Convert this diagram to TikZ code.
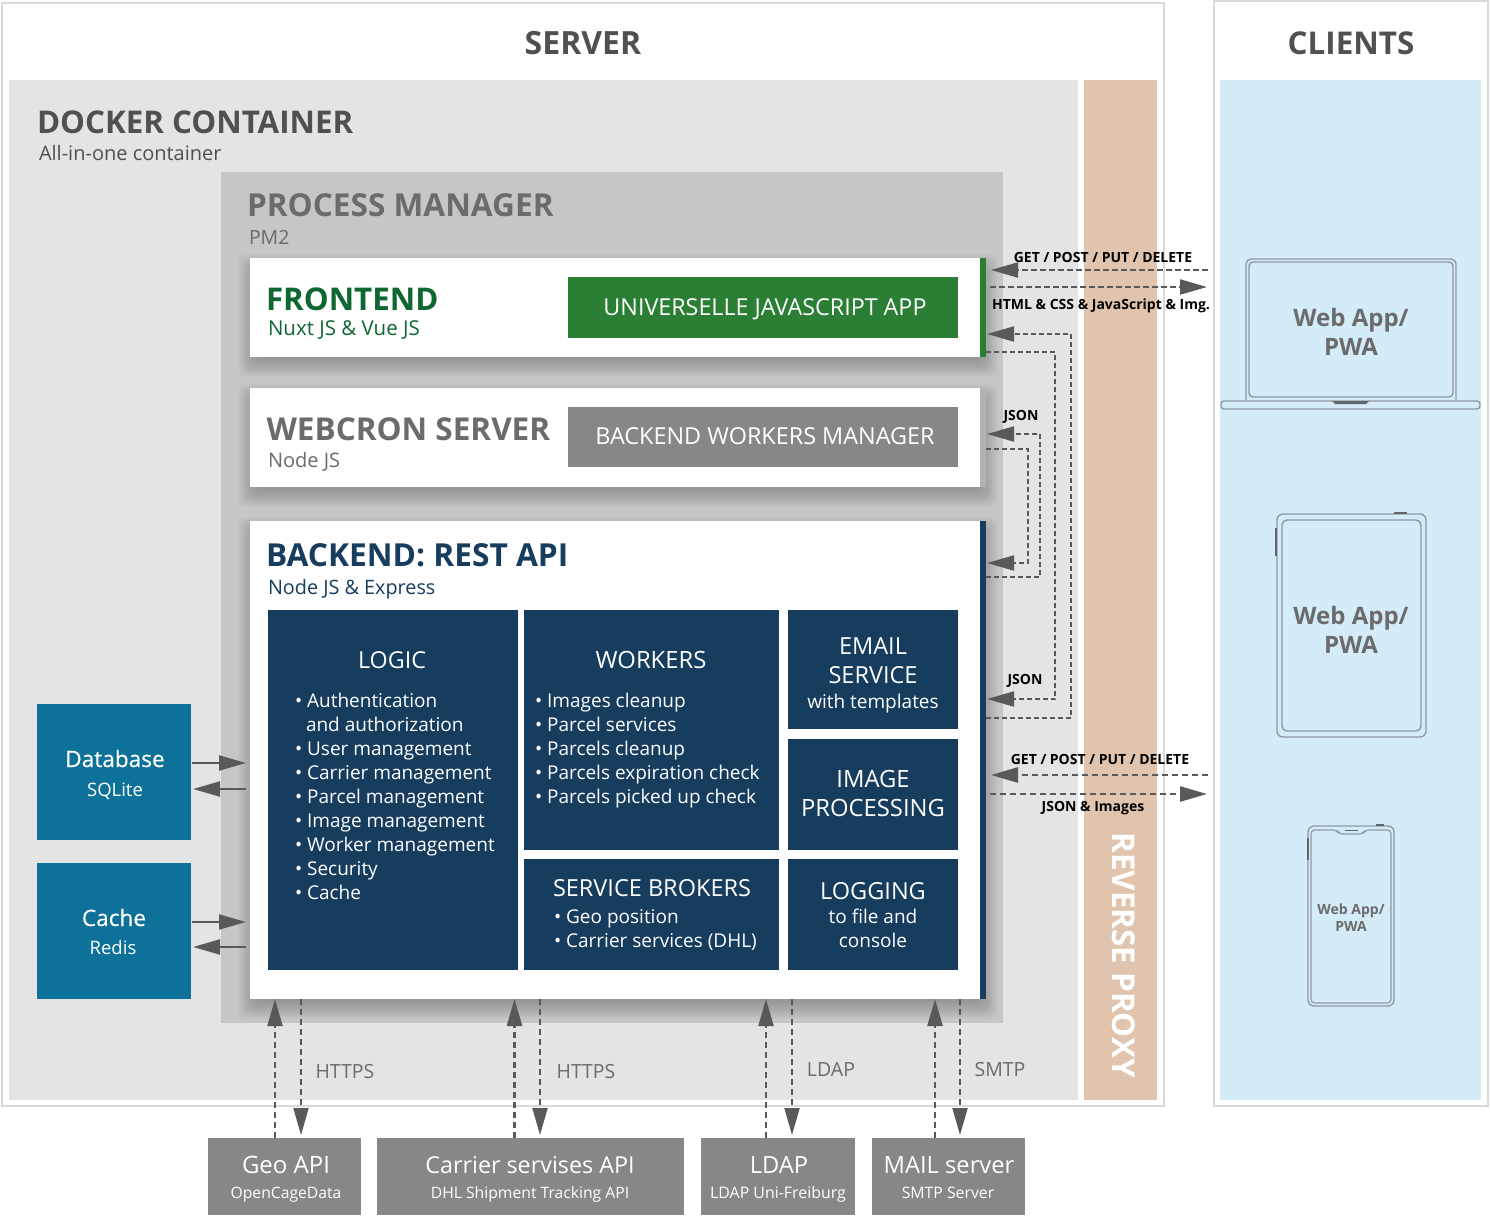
\documentclass[tikz,border=0pt]{standalone}
\usepackage{fontspec}
\setmainfont{Open Sans}
\usetikzlibrary{arrows.meta,positioning}
\definecolor{frame}{HTML}{D9D9D9}
\definecolor{dockerbg}{HTML}{E4E4E4}
\definecolor{pmbg}{HTML}{C6C6C6}
\definecolor{proxybg}{HTML}{E0C4AE}
\definecolor{clientbg}{HTML}{D4EBF8}
\definecolor{ink}{HTML}{505050}
\definecolor{inkmid}{HTML}{6B6B6B}
\definecolor{greenbar}{HTML}{2A7F35}
\definecolor{greentext}{HTML}{0E6630}
\definecolor{navy}{HTML}{163C5E}
\definecolor{teal}{HTML}{0E7199}
\definecolor{greybox}{HTML}{878787}
\definecolor{arrowc}{HTML}{595959}
\definecolor{device}{HTML}{8F9AA0}
\definecolor{devdark}{HTML}{5F686D}
\newcommand{\fs}[2]{\fontsize{#1}{#2}\selectfont}
\newcommand{\boxat}[7]{\node[#1,minimum width=#5pt-#3pt,minimum height=#6pt-#4pt,anchor=north west,#7] (#2) at (#3,#4) {};}
\newcommand{\softshadow}[4]{\foreach \d in {-8,-7,...,12}{\fill[black,opacity=.012,rounded corners=8pt] ({#1-\d},{#2-\d+8}) rectangle ({#3+\d},{#4+\d+8});}}
\tikzset{
  x=1pt,y=-1pt,
  panel/.style={inner sep=0,outer sep=0,draw=none},
  txt/.style={inner sep=0,outer sep=0,anchor=base west,text=ink},
  ctr/.style={inner sep=0,outer sep=0,anchor=base,text=white},
  mline/.style={inner sep=0,outer sep=0,align=center,text=white},
  lst/.style={inner sep=0,outer sep=0,align=left,anchor=north west,text=white},
  tag/.style={inner sep=0,outer sep=0,text=black,font=\fs{14}{16}\bfseries},
  proto/.style={inner sep=0,outer sep=0,text=inkmid,font=\fs{19.5}{22},anchor=base},
  headtip/.style={-{Triangle[length=27pt,width=15pt]},color=arrowc},
  solidarrow/.style={headtip,line width=2pt},
  dasharrow/.style={headtip,line width=2pt,dash pattern=on 6pt off 4pt},
  elbow/.style={headtip,line width=2pt,dash pattern=on 5pt off 3pt},
  dev/.style={draw=device,line width=1.4pt,line join=round},
  devtext/.style={inner sep=0,outer sep=0,align=center,text=inkmid,font=\fs{24}{29}\bfseries},
}
\begin{document}
\begin{tikzpicture}
\useasboundingbox (0,0) rectangle (1490,1216);
% outer frames
\boxat{panel,draw=frame,line width=2pt}{server}{2}{3}{1164}{1106}{}
\boxat{panel,draw=frame,line width=2pt}{clients}{1214}{1}{1488}{1106}{}
\boxat{panel,fill=dockerbg}{docker}{9}{80}{1078}{1100}{}
\boxat{panel,fill=proxybg}{proxy}{1084}{80}{1157}{1100}{}
\boxat{panel,fill=clientbg}{clientpanel}{1220}{80}{1481}{1100}{}
\boxat{panel,fill=pmbg}{pm}{221}{172}{1003}{1023}{}
% soft shadows under the three white cards
\begin{scope}
\clip (221,172) rectangle (1003,1023);
\softshadow{250}{258}{986}{357}
\softshadow{250}{388}{986}{487}
\softshadow{250}{521}{986}{999}
\end{scope}
% cards
\boxat{panel,fill=white}{frontend}{250}{258}{986}{357}{}
\fill[greenbar] (980,258) rectangle (986,357);
\boxat{panel,fill=white}{webcron}{250}{388}{986}{487}{}
\fill[black!30] (980,388) rectangle (986,487);
\boxat{panel,fill=white}{backend}{250}{521}{986}{999}{}
\fill[navy] (980,521) rectangle (986,999);
% headings
\node[txt,font=\fs{32}{36}\bfseries,anchor=base] (servertitle) at (583,54) {SERVER};
\node[txt,font=\fs{31.4}{36}\bfseries,anchor=base] (clienttitle) at (1351,54) {CLIENTS};
\node[txt,font=\fs{31.3}{36}\bfseries] (dockertitle) at (37,133) {DOCKER CONTAINER};
\node[txt,font=\fs{20}{22}] (dockersub) at (39,160) {All-in-one container};
\node[txt,text=inkmid,font=\fs{31.6}{36}\bfseries] (pmtitle) at (247,216) {PROCESS MANAGER};
\node[txt,text=inkmid,font=\fs{19.5}{22}] (pmsub) at (249,244) {PM2};
\node[txt,text=greentext,font=\fs{31.3}{36}\bfseries] (fetitle) at (266,310) {FRONTEND};
\node[txt,text=greentext,font=\fs{20.5}{22}] (fesub) at (268,335) {Nuxt JS \& Vue JS};
\node[txt,text=inkmid,font=\fs{31.5}{36}\bfseries] (wctitle) at (266.5,440) {WEBCRON SERVER};
\node[txt,text=inkmid,font=\fs{20}{22}] (wcsub) at (268,467) {Node JS};
\node[txt,text=navy,font=\fs{31.7}{36}\bfseries] (betitle) at (266,566) {BACKEND: REST API};
\node[txt,text=navy,font=\fs{19.8}{22}] (besub) at (268,594) {Node JS \& Express};
% inner bars
\boxat{panel,fill=greenbar}{jsapp}{568}{277}{958}{338}{}
\node[ctr,font=\fs{23.3}{26}] (jsapptext) at (765,315) {UNIVERSELLE JAVASCRIPT APP};
\boxat{panel,fill=greybox}{bwm}{568}{407}{958}{467}{}
\node[ctr,font=\fs{23.4}{26}] (bwmtext) at (765,444) {BACKEND WORKERS MANAGER};
% backend blocks
\boxat{panel,fill=navy}{logic}{268}{610}{518}{970}{}
\boxat{panel,fill=navy}{workers}{524}{610}{779}{850}{}
\boxat{panel,fill=navy}{email}{788}{610}{958}{729}{}
\boxat{panel,fill=navy}{image}{788}{739}{958}{850}{}
\boxat{panel,fill=navy}{brokers}{524}{859}{779}{970}{}
\boxat{panel,fill=navy}{logging}{788}{859}{958}{970}{}
\node[ctr,font=\fs{23.3}{26}] (logictitle) at (392,668) {LOGIC};
\node[lst,font=\fs{19}{24}] (logiclist) at (295,693) {•\hspace{5pt}Authentication\\\hspace{11pt}and authorization\\•\hspace{5pt}User management\\•\hspace{5pt}Carrier management\\•\hspace{5pt}Parcel management\\•\hspace{5pt}Image management\\•\hspace{5pt}Worker management\\•\hspace{5pt}Security\\•\hspace{5pt}Cache};
\node[ctr,font=\fs{23.8}{26}] (workerstitle) at (651,668) {WORKERS};
\node[lst,font=\fs{19}{24}] (workerslist) at (535,693) {•\hspace{5pt}Images cleanup\\•\hspace{5pt}Parcel services\\•\hspace{5pt}Parcels cleanup\\•\hspace{5pt}Parcels expiration check\\•\hspace{5pt}Parcels picked up check};
\node[mline,font=\fs{23.5}{29}] (emailtext1) at (873,661) {EMAIL\\SERVICE};
\node[ctr,font=\fs{19}{22}] (emailtext2) at (873,708) {with templates};
\node[mline,font=\fs{23.8}{29}] (imagetext) at (873,793.5) {IMAGE\\PROCESSING};
\node[ctr,font=\fs{23.5}{26}] (brokerstitle) at (652,896) {SERVICE BROKERS};
\node[lst,font=\fs{19}{24}] (brokerslist) at (554,910) {•\hspace{5pt}Geo position\\•\hspace{5pt}Carrier services (DHL)};
\node[ctr,font=\fs{23.5}{26}] (loggingtitle) at (873,899) {LOGGING};
\node[mline,font=\fs{19}{24}] (loggingtext) at (873,928) {to file and\\console};
% stores
\boxat{panel,fill=teal}{database}{37}{704}{191}{840}{}
\boxat{panel,fill=teal}{cache}{37}{863}{191}{999}{}
\node[ctr,font=\fs{22.6}{26}\addfontfeature{FakeBold=0.4}] (dbtitle) at (115,767) {Database};
\node[ctr,font=\fs{18.5}{22}] (dbsub) at (115,796) {SQLite};
\node[ctr,font=\fs{22.6}{26}\addfontfeature{FakeBold=0.4}] (cachetitle) at (114,926) {Cache};
\node[ctr,font=\fs{18.5}{22}] (cachesub) at (113,954) {Redis};
% external services
\boxat{panel,fill=greybox}{geo}{208}{1138}{361}{1215}{}
\boxat{panel,fill=greybox}{carrier}{377}{1138}{684}{1215}{}
\boxat{panel,fill=greybox}{ldap}{701}{1138}{855}{1215}{}
\boxat{panel,fill=greybox}{mail}{872}{1138}{1025}{1215}{}
\node[ctr,font=\fs{24}{26}] at (286,1173) {Geo API};
\node[ctr,font=\fs{15.7}{18}] at (286,1198) {OpenCageData};
\node[ctr,font=\fs{23.3}{26}] at (530,1173) {Carrier servises API};
\node[ctr,font=\fs{15.7}{18}] at (530,1198) {DHL Shipment Tracking API};
\node[ctr,font=\fs{23.7}{26}] at (779,1173) {LDAP};
\node[ctr,font=\fs{15.9}{18}] at (778,1198) {LDAP Uni-Freiburg};
\node[ctr,font=\fs{23.7}{26}] at (949,1173) {MAIL server};
\node[ctr,font=\fs{15.8}{18}] at (948,1198) {SMTP Server};
% reverse proxy label
\node[inner sep=0,text=white,font=\fs{31.4}{34}\bfseries,rotate=-90] (proxytext) at (1124,955) {REVERSE PROXY};
% store arrows
\draw[solidarrow,shorten <=1pt,shorten >=4pt] (database.east |- 0,763) -- (backend.west |- 0,763);
\draw[solidarrow,shorten <=4pt,shorten >=2pt] (backend.west |- 0,789) -- (database.east |- 0,789);
\draw[solidarrow,shorten <=1pt,shorten >=4pt] (cache.east |- 0,922) -- (backend.west |- 0,922);
\draw[solidarrow,shorten <=4pt,shorten >=2pt] (backend.west |- 0,947) -- (cache.east |- 0,947);
% service arrows
\draw[dasharrow] (geo.north -| 275,0) -- (backend.south -| 275,0);
\draw[dasharrow,shorten >=3pt] (backend.south -| 301,0) -- (geo.north -| 301,0);
\node[proto] at (345,1078) {HTTPS};
\draw[dasharrow,line width=2.6pt] (carrier.north -| 514.5,0) -- (backend.south -| 514.5,0);
\draw[dasharrow,shorten >=3pt] (backend.south -| 540,0) -- (carrier.north -| 540,0);
\node[proto] at (586,1078) {HTTPS};
\draw[dasharrow] (ldap.north -| 766,0) -- (backend.south -| 766,0);
\draw[dasharrow,shorten >=3pt] (backend.south -| 792,0) -- (ldap.north -| 792,0);
\node[proto] at (831,1076) {LDAP};
\draw[dasharrow,line width=2.6pt] (mail.north -| 935,0) -- (backend.south -| 935,0);
\draw[dasharrow,shorten >=3pt] (backend.south -| 960,0) -- (mail.north -| 960,0);
\node[proto] at (1000,1076) {SMTP};
% client arrows
\draw[elbow,dash pattern=on 6pt off 3pt,shorten <=12pt,shorten >=5pt] (clientpanel.west |- 0,270) -- (frontend.east |- 0,270);
\draw[elbow,dash pattern=on 6pt off 3pt,shorten <=4pt,shorten >=13pt] (frontend.east |- 0,287) -- (clientpanel.west |- 0,287);
\draw[dasharrow,line width=2.6pt,shorten <=12pt,shorten >=5pt] (clientpanel.west |- 0,775) -- (backend.east |- 0,775);
\draw[dasharrow,line width=2.6pt,shorten <=4pt,shorten >=13pt] (backend.east |- 0,794) -- (clientpanel.west |- 0,794);
\node[tag] at (1103,257) {GET / POST / PUT / DELETE};
\node[tag] at (1101,306) {HTML \& CSS \& JavaScript \& Img.};
\node[tag] at (1100,759) {GET / POST / PUT / DELETE};
\node[tag] at (1093,808) {JSON \& Images};
% internal elbow connectors
\draw[elbow,shorten >=1pt] (backend.east |- 0,718) -| (1071,334) -- (frontend.east |- 0,334);
\draw[elbow,shorten >=1pt] (frontend.east |- 0,351.5) -| (1055,699) -- (backend.east |- 0,699);
\draw[elbow,shorten >=1pt] (backend.east |- 0,577) -| (1040,434) -- (webcron.east |- 0,434);
\draw[elbow,shorten >=1pt] (webcron.east |- 0,449) -| (1028,563) -- (backend.east |- 0,563);
\node[tag] at (1021,417) {JSON};
\node[tag] at (1025,681) {JSON};
% laptop
\draw[dev,rounded corners=5pt] (1246,400) -- (1246,259) -- (1456,259) -- (1456,400);
\draw[dev,rounded corners=4pt] (1249,397) rectangle (1453,262);
\draw[dev,rounded corners=3pt] (1221,401) -- (1480,401) -- (1480,409) -- (1221,409) -- cycle;
\fill[devdark] (1332,401) -- (1369,401) -- (1366,404) -- (1335,404) -- cycle;
\node[devtext] (laptoptext) at (1351,331.5) {Web App/\\PWA};
% tablet
\draw[dev,rounded corners=6pt] (1277,514) rectangle (1426,737);
\draw[dev,rounded corners=5pt] (1282,520) rectangle (1421,731);
\draw[devdark,line width=1.4pt] (1276,528) -- (1276,556) (1394,513) -- (1407,513);
\node[devtext] (tablettext) at (1351,630) {Web App/\\PWA};
% phone
\draw[dev,rounded corners=6pt] (1308,826) rectangle (1394,1006);
\draw[dev,rounded corners=3.5pt,line width=1.2pt] (1311,830) -- (1337,830) -- (1339,834) -- (1363,834) -- (1365,830) -- (1391,830) -- (1391,1003) -- (1311,1003) -- cycle;
\draw[devdark,line width=1.4pt] (1345,830.5) -- (1358,830.5);
\draw[devdark,line width=1.2pt] (1308,838) -- (1308,860) (1376,825) -- (1384,825);
\node[devtext,font=\fs{14}{17}\bfseries] (phonetext) at (1351,918) {Web App/\\PWA};
\end{tikzpicture}
\end{document}
